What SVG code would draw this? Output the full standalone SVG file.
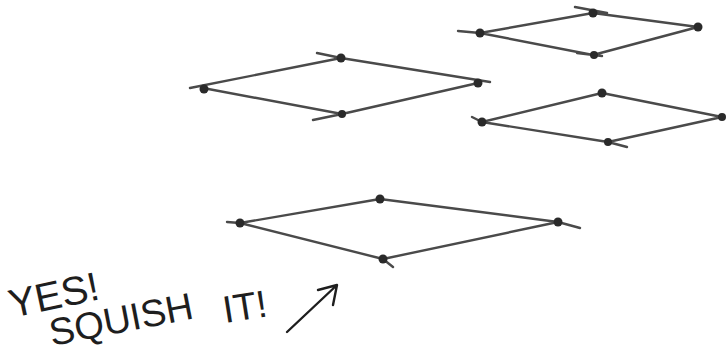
<svg xmlns="http://www.w3.org/2000/svg" width="728" height="359" viewBox="0 0 728 359">
<style>
.edge{fill:none;stroke:#4a4a4a;stroke-width:2.4;stroke-linecap:round;stroke-linejoin:round}
.knot{fill:#2a2a2a}
.hand{font-family:"Liberation Sans","DejaVu Sans",sans-serif;fill:#1e1e1e;font-weight:normal}
.pen{fill:none;stroke:#1e1e1e;stroke-width:2.4;stroke-linecap:round;stroke-linejoin:round}
</style>
<rect width="728" height="359" fill="#ffffff"/>
<g id="quad-top-middle">
<path class="edge" d="M190,88 L341,58 L490,82 M203,88 L342,114 L478,83 M317,53 L341,58 M313,120 L342,114"/>
<circle class="knot" cx="204" cy="89" r="4.5"/><circle class="knot" cx="341" cy="58" r="4.5"/><circle class="knot" cx="478" cy="83" r="4.5"/><circle class="knot" cx="342" cy="114" r="4"/>
</g>
<g id="quad-top-right">
<path class="edge" d="M458,31 L480,33 L593,13 L698,27 M480,33 L593,55 L698,27 M575,7 L607,13 M577,53 L602,56"/>
<circle class="knot" cx="480" cy="33" r="4.5"/><circle class="knot" cx="593" cy="13" r="4.5"/><circle class="knot" cx="698" cy="27" r="4.5"/><circle class="knot" cx="594" cy="55" r="4"/>
</g>
<g id="quad-middle-right">
<path class="edge" d="M472,117 L482,122 L602,93 L722,117 M482,122 L608,142 L722,117 M608,142 L627,147"/>
<circle class="knot" cx="482" cy="122" r="4.5"/><circle class="knot" cx="602" cy="93" r="4.5"/><circle class="knot" cx="722" cy="117" r="4"/><circle class="knot" cx="608" cy="142" r="4"/>
</g>
<g id="quad-bottom">
<path class="edge" d="M227,222 L240,223 L380,199 L558,222 L580,228 M240,223 L383,259 L558,222 M383,259 L393,267"/>
<circle class="knot" cx="240" cy="223" r="4.5"/><circle class="knot" cx="380" cy="199" r="4.5"/><circle class="knot" cx="558" cy="222" r="4.5"/><circle class="knot" cx="383" cy="259" r="4.5"/>
</g>
<g id="caption">
<text class="hand" font-size="40" transform="translate(12,318) rotate(-12)">YES!</text>
<text class="hand" font-size="38" transform="translate(52,346) rotate(-11)">SQUISH</text>
<text class="hand" font-size="38" transform="translate(225,323) rotate(-9)">IT!</text>
<path class="pen" d="M287,332 L337,285 M318,290 L337,285 L333,305"/>
</g>
</svg>
